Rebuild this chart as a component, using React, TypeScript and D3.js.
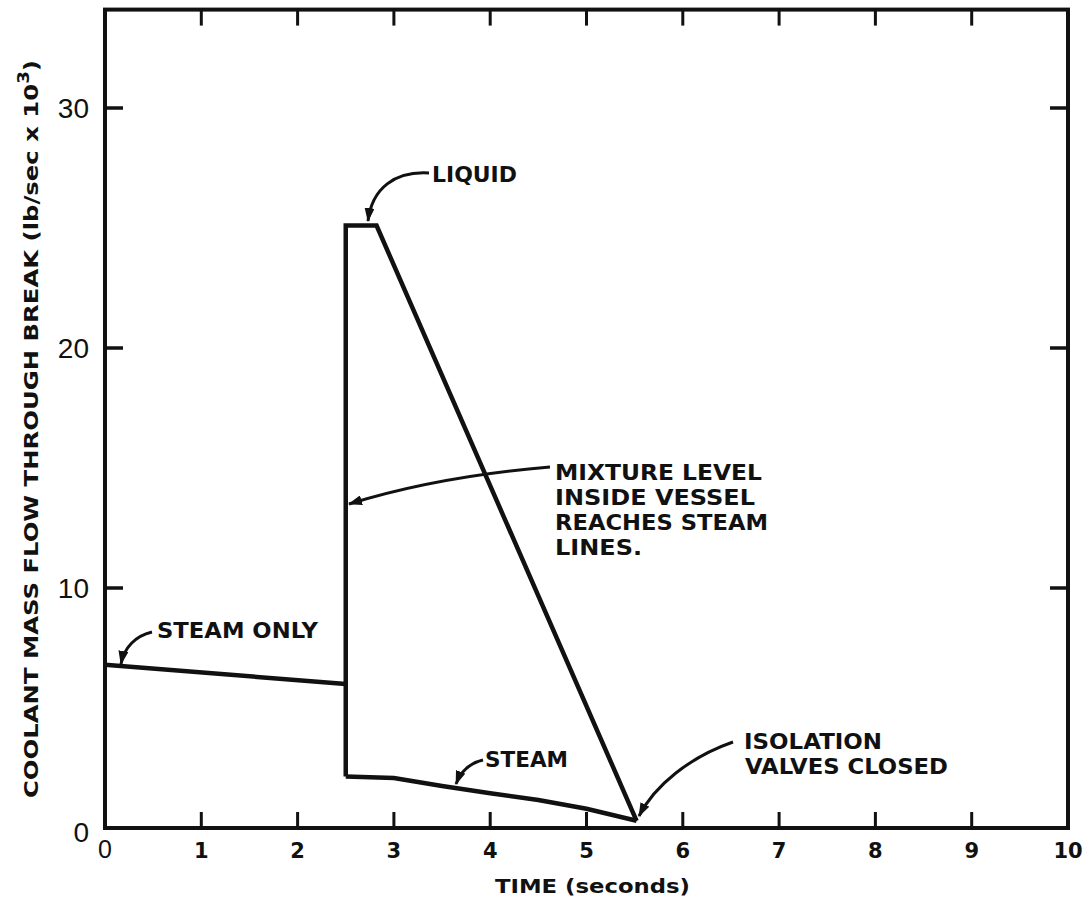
import * as React from "react";
import * as d3 from "d3";

// time axis (seconds) and flow axis (lb/sec x 10^3)
const timeTicks = [0, 1, 2, 3, 4, 5, 6, 7, 8, 9, 10];
const flowTicks = [0, 10, 20, 30];
const flowTop = 34.1;

// steam only, before the mixture level reaches the steam lines
const steamOnlyTime = [0, 2.5];
const steamOnlyFlow = [6.8, 6.0];

// liquid flow: jump at 2.5 s, plateau, then ramp down to valve closure
const liquidTime = [2.5, 2.5, 2.82, 5.52];
const liquidFlow = [2.15, 25.1, 25.1, 0.3];

// steam flow after the jump
const steamTime = [2.5, 3.0, 3.5, 4.0, 4.5, 5.0, 5.52];
const steamFlow = [2.15, 2.08, 1.75, 1.45, 1.17, 0.8, 0.3];

const W = 1083;
const H = 899;

const bold = "'DejaVu Sans', sans-serif";
const thin = "'Liberation Sans', Arial, sans-serif";

export default function App() {
    const x = d3.scaleLinear().domain([0, 10]).range([105, 1068]);
    const y = d3.scaleLinear().domain([0, 30]).range([828, 108]);

    const line = d3.line<[number, number]>()
        .x(d => x(d[0]))
        .y(d => y(d[1]));

    const zip = (t: number[], v: number[]) => t.map<[number, number]>((ti, i) => [ti, v[i]]);

    const ink = "#111";
    const innerX = timeTicks.slice(1, -1);
    const innerY = flowTicks.slice(1);

    return <div style={{ position: "absolute", left: 0, top: 0 }}>
        <svg width={W} height={H} style={{ display: "block", background: "#fff" }}>
            <defs>
                <marker id="head" viewBox="0 0 14 10" refX="13" refY="5" markerWidth="14" markerHeight="10"
                    markerUnits="userSpaceOnUse" orient="auto">
                    <path d="M0,0 L14,5 L0,10 Z" fill={ink} />
                </marker>
            </defs>

            {/* frame */}
            <rect x={x(0)} y={y(flowTop)} width={x(10) - x(0)} height={y(0) - y(flowTop)}
                fill="none" stroke={ink} strokeWidth={4} />

            {/* ticks */}
            {innerX.map(t => <g key={"xt" + t}>
                <line x1={x(t)} x2={x(t)} y1={y(0)} y2={y(0) - 16} stroke={ink} strokeWidth={3} />
                <line x1={x(t)} x2={x(t)} y1={y(flowTop)} y2={y(flowTop) + 16} stroke={ink} strokeWidth={3} />
            </g>)}
            {innerY.map(v => <g key={"yt" + v}>
                <line x1={x(0)} x2={x(0) + 18} y1={y(v)} y2={y(v)} stroke={ink} strokeWidth={3.5} />
                <line x1={x(10)} x2={x(10) - 18} y1={y(v)} y2={y(v)} stroke={ink} strokeWidth={3.5} />
            </g>)}

            {/* tick labels */}
            {timeTicks.map(t => <text key={"xl" + t} x={x(t)} y={858} textAnchor="middle"
                fontFamily={t === 0 ? thin : bold} fontWeight={t === 0 ? "normal" : "bold"}
                fontSize={t === 0 ? 25 : 21} fill={ink}>{t}</text>)}
            {flowTicks.map(v => <text key={"yl" + v} x={89} y={y(v) + (v === 0 ? 14 : 10)} textAnchor="end"
                fontFamily={thin} fontSize={28} fill={ink}>{v}</text>)}

            {/* axis titles */}
            <text x={495} y={893} textLength={195} lengthAdjust="spacingAndGlyphs"
                fontFamily={bold} fontWeight="bold" fontSize={20} fill={ink}>TIME (seconds)</text>
            <text transform={`translate(38,798) rotate(-90)`} textLength={738} lengthAdjust="spacingAndGlyphs"
                fontFamily={bold} fontWeight="bold" fontSize={20} fill={ink}>
                COOLANT MASS FLOW THROUGH BREAK (lb/sec x 10<tspan dy={-9} fontSize={15}>3</tspan><tspan dy={9}>)</tspan>
            </text>

            {/* data */}
            <path d={line(zip(steamOnlyTime, steamOnlyFlow)) || ""} fill="none" stroke={ink} strokeWidth={4.5} />
            <path d={line(zip(liquidTime, liquidFlow)) || ""} fill="none" stroke={ink} strokeWidth={4.5}
                strokeLinejoin="miter" />
            <path d={line(zip(steamTime, steamFlow)) || ""} fill="none" stroke={ink} strokeWidth={4.5} />

            {/* annotations */}
            <g fill="none" stroke={ink} strokeWidth={3} markerEnd="url(#head)">
                <path d="M429,173 C395,171 372,188 368,221" />
                <path d="M550,467 C490,472 420,482 349,504" />
                <path d="M152,632 C135,636 124,648 121,664" />
                <path d="M483,760 C470,763 461,771 456,784" />
                <path d="M733,742 C690,757 655,785 639,816" />
            </g>
            <g fontFamily={bold} fontWeight="bold" fontSize={21} fill={ink}>
                <text x={432} y={182} textLength={85} lengthAdjust="spacingAndGlyphs">LIQUID</text>
                <text x={555} y={480} textLength={207} lengthAdjust="spacingAndGlyphs">MIXTURE LEVEL</text>
                <text x={555} y={505} textLength={200} lengthAdjust="spacingAndGlyphs">INSIDE VESSEL</text>
                <text x={555} y={530} textLength={213} lengthAdjust="spacingAndGlyphs">REACHES STEAM</text>
                <text x={555} y={555} textLength={87} lengthAdjust="spacingAndGlyphs">LINES.</text>
                <text x={157} y={638} textLength={161} lengthAdjust="spacingAndGlyphs">STEAM ONLY</text>
                <text x={485} y={767} textLength={83} lengthAdjust="spacingAndGlyphs">STEAM</text>
                <text x={744} y={749} textLength={138} lengthAdjust="spacingAndGlyphs">ISOLATION</text>
                <text x={745} y={774} textLength={203} lengthAdjust="spacingAndGlyphs">VALVES CLOSED</text>
            </g>
        </svg>
    </div>;
}
